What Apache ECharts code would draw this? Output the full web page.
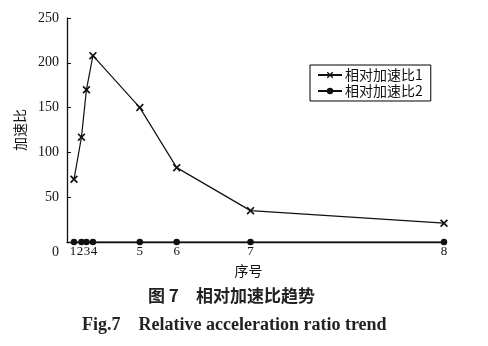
<!DOCTYPE html>
<html><head><meta charset="utf-8">
<script src="https://cdn.jsdelivr.net/npm/echarts@6/dist/echarts.min.js"></script>
<style>html,body{margin:0;padding:0;background:#fff}#c{width:488px;height:346px}</style>
</head><body><div id="c"></div>
<script>
// data
const seriesNames = ['相对加速比1', '相对加速比2'];
const xValues = [7, 14.5, 19.5, 26, 73, 110, 184, 378];
const ratio1 = [70, 117, 170, 208, 150, 83, 35, 21];
const ratio2 = [0, 0, 0, 0, 0, 0, 0, 0];
const xTickValues = [6, 13, 20, 27, 73, 110, 184, 378];
const xTickLabels = ['1', '2', '3', '4', '5', '6', '7', '8'];
const yTicks = [0, 50, 100, 150, 200, 250];
const xName = '序号';
const yName = '加速比';
const captionCn = '图 7　相对加速比趋势';
const captionEn = 'Fig.7　Relative acceleration ratio trend';

const serif = '"Liberation Serif", "DejaVu Serif", serif';
const cjk = '"Noto Sans CJK SC", sans-serif';
const xMark = 'path://M0,1.5 L1.5,0 L5,3.5 L8.5,0 L10,1.5 L6.5,5 L10,8.5 L8.5,10 L5,6.5 L1.5,10 L0,8.5 L3.5,5 Z';

const chart = echarts.init(document.getElementById('c'), null, {renderer: 'canvas'});
chart.setOption({
  animation: false,
  backgroundColor: '#fff',
  grid: {left: 67, right: 42, top: 18, bottom: 104, containLabel: false},
  legend: {
    left: 310, top: 65, orient: 'vertical',
    borderColor: '#000', borderWidth: 1, borderRadius: 0,
    padding: [3, 8, 3, 7], itemGap: 2,
    itemWidth: 24, itemHeight: 8,
    textStyle: {fontFamily: cjk, fontSize: 14, color: '#111', padding: [0, 0, 0, -2]},
    data: seriesNames
  },
  xAxis: {
    type: 'value', min: 0, max: 380,
    name: xName, nameLocation: 'middle', nameGap: 22,
    nameTextStyle: {fontFamily: cjk, fontSize: 14, color: '#111', padding: [0, 16, 0, 0]},
    axisLine: {lineStyle: {color: '#111', width: 1.3}},
    axisTick: {show: false},
    splitLine: {show: false},
    axisLabel: {
      customValues: xTickValues,
      hideOverlap: false, showMinLabel: true, showMaxLabel: true,
      formatter: v => { const i = xTickValues.indexOf(v); return i >= 0 ? xTickLabels[i] : ''; },
      fontFamily: serif, fontSize: 13, color: '#111', margin: 3
    }
  },
  yAxis: {
    type: 'value', min: yTicks[0], max: yTicks[yTicks.length - 1], interval: 50,
    name: yName, nameLocation: 'middle', nameGap: 38, nameRotate: 90,
    nameTextStyle: {fontFamily: cjk, fontSize: 14, color: '#111'},
    axisLine: {show: true, lineStyle: {color: '#111', width: 1.3}},
    axisTick: {show: true, inside: true, length: 4, lineStyle: {color: '#111'}},
    splitLine: {show: false},
    axisLabel: {
      fontFamily: serif, fontSize: 14, color: '#111', margin: 8,
      formatter: v => v === 0 ? '{z|0}' : String(v),
      rich: {z: {fontFamily: serif, fontSize: 14, color: '#111', padding: [20, 0, 0, 0]}}
    }
  },
  series: [
    {
      name: seriesNames[0], type: 'line', clip: false,
      data: xValues.map((x, i) => [x, ratio1[i]]),
      symbol: xMark, symbolSize: 8,
      lineStyle: {color: '#111', width: 1.2},
      itemStyle: {color: '#111'}
    },
    {
      name: seriesNames[1], type: 'line', clip: false,
      data: xValues.map((x, i) => [x, ratio2[i]]),
      symbol: 'circle', symbolSize: 6.5,
      lineStyle: {color: '#111', width: 1.2},
      itemStyle: {color: '#111'}
    }
  ],
  graphic: [
    {type: 'text', left: 148, top: 287, style: {text: captionCn, font: 'bold 17px "Noto Sans CJK SC"', fill: '#222'}},
    {type: 'text', left: 82, top: 316, style: {text: captionEn, font: 'bold 18px "Liberation Serif"', fill: '#222'}}
  ]
});
</script></body></html>
